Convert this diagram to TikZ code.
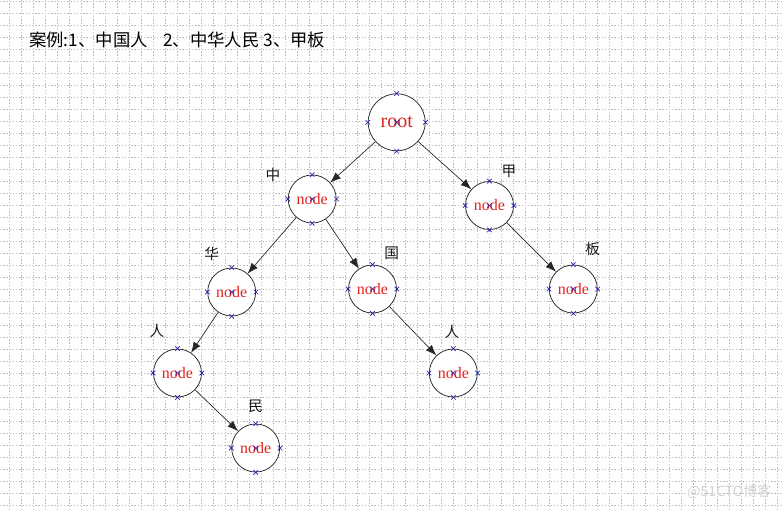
\documentclass[tikz,border=0pt]{standalone}
\usepackage{fontspec}
\setmainfont{Liberation Serif}
\newfontfamily\cjk{Noto Sans CJK SC}
\usetikzlibrary{arrows.meta}
\definecolor{nodered}{RGB}{225,35,35}
\definecolor{markblue}{RGB}{30,30,170}
\definecolor{gridgray}{RGB}{190,190,190}
\tikzset{
  gridline/.style={gridgray, line width=0.45pt, dash pattern=on 1pt off 1.4pt},
  tnode/.style={circle, draw=black!85, line width=0.55pt, fill=white, minimum size=36pt, inner sep=0pt, text=nodered, font=\fontsize{12}{12}\selectfont},
  rootnode/.style={tnode, minimum size=42.75pt, font=\fontsize{15}{15}\selectfont},
  lab/.style={font=\cjk\fontsize{11}{11}\selectfont, text=black!90},
  edge/.style={draw=black!85, line width=0.5pt, -{Latex[length=8pt,width=6pt]}},
  mk/.style={markblue, line width=0.45pt},
}
\newcommand\xmarks[1]{%
  \foreach \a in {north,south,east,west,center}{%
    \draw[mk] ([shift={(-2.3,-2.3)}]#1.\a) -- ([shift={(2.3,2.3)}]#1.\a);
    \draw[mk] ([shift={(-2.3,2.3)}]#1.\a) -- ([shift={(2.3,-2.3)}]#1.\a);
  }}
\begin{document}
\begin{tikzpicture}[x=0.75pt,y=-0.75pt]
\useasboundingbox (0,0) rectangle (784,510);
\fill[white] (0,0) rectangle (784,510);
\foreach \i in {0,...,64} \draw[gridline] (9.3+12*\i,0) -- (9.3+12*\i,510);
\foreach \j in {0,...,42} \draw[gridline] (0,1.3+12*\j) -- (784,1.3+12*\j);

\node[anchor=west, font=\cjk\fontsize{13}{13}\selectfont, inner sep=0pt] (title) at (29,40)
  {案例:1、中国人\hspace{0.9em}2、中华人民 3、甲板};

\node[rootnode] (root) at (396.7,122.3) {root};
\node[tnode] (zhong) at (312.2,199) {node};
\node[tnode] (jia) at (489.5,205.5) {node};
\node[tnode] (hua) at (231.7,292) {node};
\node[tnode] (guo) at (372.5,289) {node};
\node[tnode] (ban) at (573.3,289) {node};
\node[tnode] (renL) at (177.5,373) {node};
\node[tnode] (renR) at (453.3,373) {node};
\node[tnode] (min) at (255.7,448) {node};

\foreach \n in {root,zhong,jia,hua,guo,ban,renL,renR,min} {\xmarks{\n}}

\draw[edge] (root) -- (zhong);
\draw[edge] (root) -- (jia);
\draw[edge] (zhong) -- (hua);
\draw[edge] (zhong) -- (guo);
\draw[edge] (hua) -- (renL);
\draw[edge] (renL) -- (min);
\draw[edge] (guo) -- (renR);
\draw[edge] (jia) -- (ban);

\node[lab] (lzhong) at (273,175) {中};
\node[lab] (ljia) at (509,171) {甲};
\node[lab] (lhua) at (211.7,254) {华};
\node[lab] (lguo) at (391.7,253) {国};
\node[lab] (lban) at (592.7,249) {板};
\node[lab] (lrenL) at (157,331) {人};
\node[lab] (lrenR) at (452,332) {人};
\node[lab] (lmin) at (255.7,406) {民};

\node[font=\cjk\fontsize{10.5}{10.5}\selectfont, text=black!18, anchor=east] (wm) at (776,492) {@51CTO博客};
\end{tikzpicture}
\end{document}
